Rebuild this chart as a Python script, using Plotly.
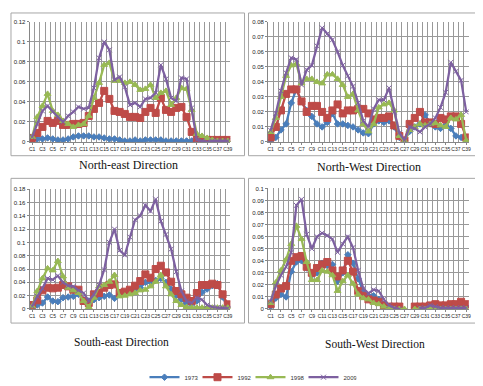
import plotly.graph_objects as go

W, H = 483, 386
categories = [f"C{i}" for i in range(1, 40)]
years = ["1973", "1992", "1998", "2009"]

# North-east
ne_1973 = [0.002,0.003,0.003,0.004,0.003,0.002,0.002,0.003,0.005,0.006,0.006,0.006,0.005,0.005,0.004,0.003,0.003,0.002,0.001,0.001,
           0.002,0.001,0.002,0.002,0.002,0.002,0.001,0.001,0.001,0.001,0.001,0.001,0,0,0,0,0,0,0]
ne_1992 = [0.004,0.009,0.015,0.021,0.019,0.021,0.017,0.017,0.018,0.018,0.019,0.026,0.033,0.039,0.051,0.043,0.031,0.030,0.028,0.025,
           0.025,0.024,0.030,0.034,0.029,0.044,0.032,0.030,0.034,0.035,0.025,0.010,0.003,0.002,0.002,0.002,0.002,0.002,0.002]
ne_1998 = [0.005,0.025,0.036,0.048,0.031,0.027,0.021,0.018,0.015,0.017,0.018,0.026,0.044,0.059,0.077,0.079,0.061,0.061,0.059,0.060,
           0.057,0.052,0.053,0.057,0.044,0.049,0.051,0.037,0.044,0.054,0.053,0.032,0.008,0.006,0.004,0.002,0.001,0.001,0.001]
ne_2009 = [0.005,0.018,0.031,0.036,0.030,0.025,0.020,0.026,0.030,0.035,0.033,0.034,0.054,0.084,0.100,0.092,0.062,0.065,0.055,0.037,
           0.039,0.035,0.043,0.044,0.049,0.077,0.063,0.044,0.041,0.064,0.063,0.034,0.002,0.001,0,0.001,0.001,0.001,0.001]

# North-West
nw_1973 = [0.001,0.003,0.008,0.012,0.026,0.035,0.027,0.021,0.017,0.012,0.010,0.013,0.019,0.012,0.012,0.011,0.010,0.008,0.006,0.0055,
           0.012,0.014,0.013,0.014,0.010,0.003,0.001,0.007,0.010,0.012,0.018,0.012,0.010,0.009,0.011,0.009,0.004,0.003,0.001]
nw_1992 = [0.003,0.010,0.021,0.032,0.035,0.035,0.027,0.020,0.024,0.024,0.020,0.016,0.021,0.025,0.019,0.021,0.021,0.022,0.022,0.019,
           0.015,0.016,0.016,0.017,0.011,0.004,0.001,0.012,0.016,0.020,0.013,0.013,0.012,0.016,0.015,0.017,0.017,0.012,0.003]
nw_1998 = [0.0066,0.016,0.030,0.044,0.051,0.052,0.039,0.042,0.042,0.040,0.039,0.045,0.045,0.042,0.038,0.030,0.032,0.021,0.012,0.007,
           0.012,0.023,0.025,0.026,0.021,0.004,0.0005,0.008,0.010,0.012,0.011,0.012,0.0125,0.011,0.010,0.016,0.015,0.018,0.001]
nw_2009 = [0.0077,0.019,0.034,0.046,0.056,0.055,0.038,0.048,0.051,0.064,0.076,0.072,0.068,0.060,0.051,0.044,0.037,0.026,0.014,0.010,
           0.022,0.028,0.028,0.036,0.020,0.006,0.001,0.010,0.009,0.0066,0.010,0.012,0.016,0.023,0.033,0.053,0.047,0.041,0.020]

# South-east
se_1973 = [0.002,0.006,0.009,0.018,0.012,0.011,0.017,0.018,0.019,0.022,0.014,0.012,0.014,0.017,0.019,0.021,0.016,0.022,0.024,0.025,
           0.028,0.032,0.040,0.040,0.043,0.046,0.040,0.030,0.020,0.014,0.008,0.008,0.012,0.025,0.030,0.035,0.038,0.018,0.003]
se_1992 = [0.006,0.013,0.028,0.032,0.031,0.032,0.036,0.034,0.029,0.029,0.012,0.009,0.022,0.024,0.032,0.036,0.037,0.024,0.026,0.029,
           0.035,0.042,0.052,0.047,0.060,0.065,0.055,0.041,0.027,0.022,0.017,0.012,0.024,0.036,0.036,0.038,0.036,0.022,0.007]
se_1998 = [0.004,0.027,0.046,0.061,0.058,0.072,0.049,0.032,0.028,0.024,0.012,0.003,0.017,0.034,0.036,0.041,0.051,0.019,0.020,0.022,
           0.024,0.028,0.029,0.034,0.041,0.051,0.034,0.022,0.012,0.006,0.003,0.002,0.002,0.002,0.002,0.002,0.002,0.002,0.002]
se_2009 = [0.004,0.019,0.031,0.046,0.044,0.050,0.040,0.035,0.034,0.028,0.024,0.012,0.022,0.036,0.059,0.100,0.120,0.088,0.081,0.108,
           0.134,0.140,0.156,0.147,0.165,0.132,0.112,0.090,0.056,0.027,0.012,0.009,0.017,0.014,0.006,0.003,0.002,0.002,0.001]

# South-West
sw_1973 = [0.002,0.009,0.012,0.010,0.031,0.039,0.040,0.034,0.028,0.030,0.038,0.036,0.037,0.023,0.030,0.045,0.038,0.025,0.015,0.011,
           0.011,0.008,0.004,0.002,0.001,0.001,None,None,0.001,0.002,0.002,0.002,0.003,0.002,0.002,0.003,0.003,0.003,0.002]
sw_1992 = [0.004,0.012,0.017,0.019,0.040,0.043,0.044,0.035,0.030,0.034,0.037,0.039,0.032,0.027,0.032,0.040,0.031,0.015,0.011,0.008,
           0.007,0.006,0.003,0.002,0.002,0.002,None,None,0.002,0.002,0.002,0.003,0.004,0.003,0.003,0.004,0.004,0.006,0.004]
sw_1998 = [0.005,0.022,0.032,0.041,0.054,0.069,0.058,0.039,0.024,0.024,0.032,0.031,0.028,0.015,0.023,0.028,0.021,0.012,0.009,0.008,
           0.005,0.004,0.002,0.001,0,0,0,None,0,0,0,0,0,0,0,0,0,0,0]
sw_2009 = [0.0065,0.019,0.028,0.035,0.047,0.086,0.091,0.062,0.050,0.060,0.063,0.061,0.058,0.047,0.054,0.060,0.051,0.032,0.017,0.013,
           0.016,0.015,0.008,0.003,0.001,0,None,None,None,0.001,0.001,0.003,0.002,0.001,0.001,0.001,0.001,0.001,0.001]

panels = [
    ("North-east Direction", [ne_1973, ne_1992, ne_1998, ne_2009], [0, 0.02, 0.04, 0.06, 0.08, 0.1, 0.12]),
    ("North-West Direction", [nw_1973, nw_1992, nw_1998, nw_2009], [0, 0.01, 0.02, 0.03, 0.04, 0.05, 0.06, 0.07, 0.08]),
    ("South-east Direction", [se_1973, se_1992, se_1998, se_2009], [0, 0.02, 0.04, 0.06, 0.08, 0.1, 0.12, 0.14, 0.16, 0.18]),
    ("South-West Direction", [sw_1973, sw_1992, sw_1998, sw_2009], [0, 0.01, 0.02, 0.03, 0.04, 0.05, 0.06, 0.07, 0.08, 0.09, 0.1]),
]

colors = ["#4A7EBB", "#BE4B48", "#98B954", "#7D60A0"]
symbols = ["diamond", "square", "triangle-up", "x-thin"]
msizes = [5, 7, 6, 5]

# plot-area pixel boxes (x0, x1, ytop, ybottom) and frame boxes
plot_px = [(20.7, 222.7, 11, 133), (260.7, 462.7, 11, 133), (20.7, 222.7, 181, 302.7), (260.7, 462.7, 180.3, 302.7)]
frame_px = [(2, 237, 2, 147), (241, 473, 2, 147), (2, 237, 170, 317), (241, 473, 170, 317)]
title_px = [(120, 156, 12), (362, 158, 12), (113, 336, 11.5), (368, 338, 11.5)]

xtick_vals = list(range(0, 39, 2))
xtick_text = [categories[i] for i in xtick_vals]
xidx = list(range(len(categories)))

fig = go.Figure()
layout = dict(width=W, height=H, margin=dict(l=0, r=0, t=0, b=0),
              paper_bgcolor="white", plot_bgcolor="white", shapes=[], annotations=[])

for p, (title, series, yt) in enumerate(panels):
    ax = "" if p == 0 else str(p + 1)
    x0, x1, yt_px, yb_px = plot_px[p]
    for s, vals in enumerate(series):
        fig.add_trace(go.Scatter(
            x=xidx, y=vals, mode="lines+markers", name=years[s],
            xaxis="x" + ax, yaxis="y" + ax, showlegend=(p == 0),
            legendgroup=years[s],
            line=dict(color=colors[s], width=2.25),
            marker=dict(symbol=symbols[s], size=msizes[s], color=colors[s],
                        line=dict(color=colors[s], width=1)),
            connectgaps=False,
        ))
    layout["xaxis" + ax] = dict(
        domain=[x0 / W, x1 / W], anchor="y" + ax, range=[-0.5, 38.5],
        tickmode="array", tickvals=xtick_vals, ticktext=xtick_text,
        tickfont=dict(size=5, color="#222", family="Liberation Sans"),
        showgrid=False, zeroline=False, showline=True, linecolor="#868686",
        ticks="outside", ticklen=2, tickcolor="#868686",
        minor=dict(tickmode="linear", tick0=-0.5, dtick=1, showgrid=True,
                   gridcolor="#999999", gridwidth=1),
        tickangle=0,
    )
    layout["yaxis" + ax] = dict(
        domain=[1 - yb_px / H, 1 - yt_px / H], anchor="x" + ax, range=[0, yt[-1]],
        tickmode="array", tickvals=yt, ticktext=[f"{v:g}" for v in yt],
        tickfont=dict(size=6, color="#222", family="Liberation Sans"),
        showgrid=True, gridcolor="#999999", gridwidth=1, zeroline=False,
        showline=True, linecolor="#868686", ticks="outside", ticklen=2, tickcolor="#868686",
    )
    fx0, fx1, fy0, fy1 = frame_px[p]
    layout["shapes"].append(dict(type="rect", xref="paper", yref="paper",
                                 x0=fx0 / W, x1=fx1 / W, y0=1 - fy1 / H, y1=1 - fy0 / H,
                                 line=dict(color="#A6A6A6", width=1)))
    tx, ty, tsz = title_px[p]
    layout["annotations"].append(dict(text=title, xref="paper", yref="paper",
                                      x=tx / W, y=1 - ty / H, showarrow=False,
                                      xanchor="center", yanchor="middle",
                                      font=dict(family="Liberation Serif", size=tsz, color="#111")))

layout["legend"] = dict(orientation="h", x=243 / W, xanchor="center", y=1 - 372 / H, yanchor="middle",
                        font=dict(size=6, family="Liberation Sans", color="#333"),
                        itemwidth=30, entrywidth=8, entrywidthmode="pixels",
                        bgcolor="rgba(0,0,0,0)", tracegroupgap=0)
fig.update_layout(**layout)
fig.write_html("out.html")
